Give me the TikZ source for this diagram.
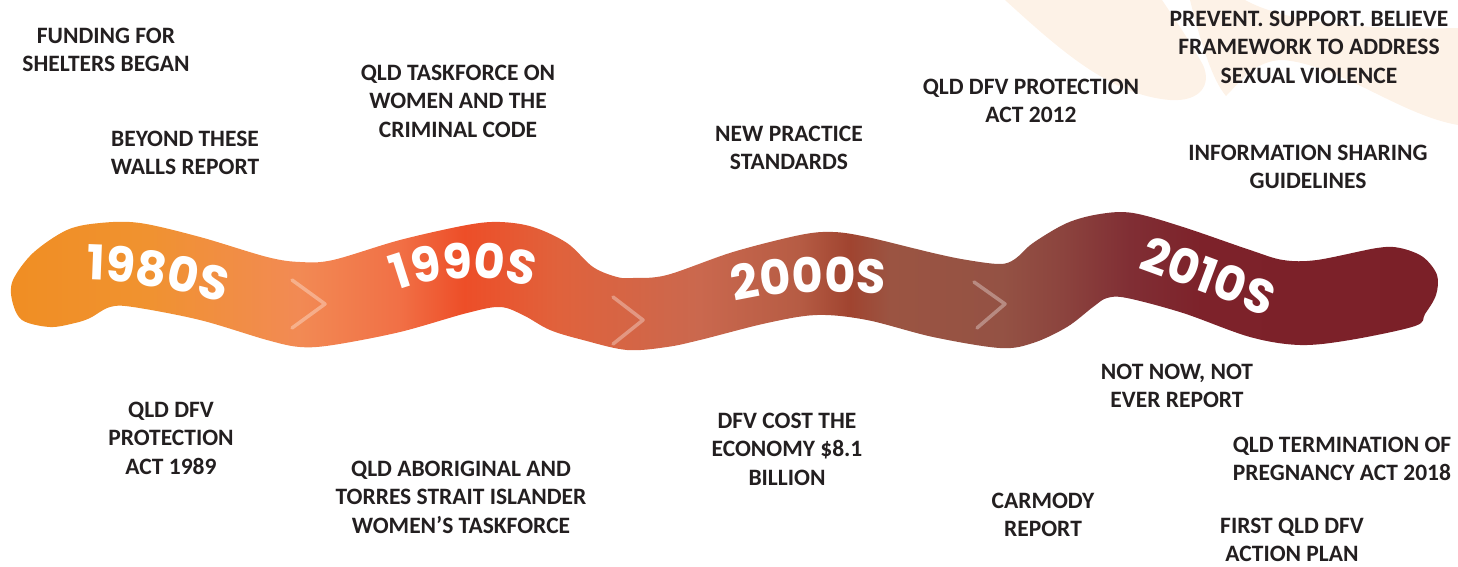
\documentclass[tikz,border=0pt]{standalone}
\usepackage{fontspec}
\setmainfont{Carlito}
\newfontfamily\decfont{Poppins}
\usetikzlibrary{decorations.text}
\definecolor{txtgray}{RGB}{35,31,32}
\definecolor{cream}{RGB}{253,242,231}
\definecolor{wa}{RGB}{240,142,35}
\definecolor{wb}{RGB}{240,146,48}
\definecolor{wc}{RGB}{242,138,84}
\definecolor{wd}{RGB}{241,112,70}
\definecolor{we}{RGB}{237,78,40}
\definecolor{wf}{RGB}{224,98,60}
\definecolor{wg}{RGB}{202,104,78}
\definecolor{wh}{RGB}{182,92,68}
\definecolor{wi}{RGB}{160,68,48}
\definecolor{wj}{RGB}{155,84,66}
\definecolor{wk}{RGB}{148,82,68}
\definecolor{wl}{RGB}{140,68,62}
\definecolor{wm}{RGB}{128,46,52}
\definecolor{wn}{RGB}{125,34,42}
\definecolor{wo}{RGB}{123,32,40}
\pgfdeclarehorizontalshading{wave}{100bp}{color(0bp)=(wa); color(25bp)=(wa); color(29.8bp)=(wb); color(35.1bp)=(wc); color(38.6bp)=(wd); color(40.9bp)=(we); color(44.2bp)=(wf); color(49.1bp)=(wg); color(52.6bp)=(wh); color(54.4bp)=(wi); color(55.8bp)=(wj); color(59.7bp)=(wk); color(61.8bp)=(wl); color(64.2bp)=(wm); color(66.7bp)=(wn); color(75bp)=(wo); color(100bp)=(wo)}
\tikzset{
  lbl/.style={font=\bfseries\fontsize{23.5}{28.5}\selectfont, text=txtgray, align=center, inner sep=0pt},
  chev/.style={draw=white, draw opacity=0.33, line width=3.5pt, line cap=round, line join=round},
  decade/.style={decorate, decoration={text along path, text align=center, text color=white,
     text={|\decfont\bfseries\fontsize{48}{48}\selectfont|#1}}}
}
\begin{document}
\begin{tikzpicture}[x=1pt,y=-1pt]
\useasboundingbox (0,0) rectangle (1458,567);
% pale background strokes, top right
\fill[cream] (1005,0) .. controls (1060,50) and (1110,95) .. (1170,100)
  .. controls (1200,102) and (1212,85) .. (1203,65)
  .. controls (1188,38) and (1172,15) .. (1162,0) -- cycle;
\fill[cream] (1190,0) .. controls (1200,40) and (1212,80) .. (1226,96)
  .. controls (1240,82) and (1255,60) .. (1283,60)
  .. controls (1340,65) and (1400,115) .. (1458,125) -- (1458,28)
  .. controls (1380,30) and (1290,25) .. (1245,0) -- cycle;
% wave
\shade[shading=wave] plot[smooth cycle, tension=0.55] coordinates {
 (13,280) (33,253) (67,230) (100,223) (140,223) (200,237) (267,257) (300,262) (333,260)
 (400,240) (467,225) (500,222) (533,227) (567,243) (593,267) (617,277) (633,278) (667,275)
 (733,252) (800,235) (833,232) (867,237) (933,253) (967,260) (1000,264) (1015,259) (1033,243)
 (1067,223) (1100,214) (1133,213) (1183,227) (1250,250) (1283,260) (1317,260) (1377,248)
 (1400,248) (1423,257) (1437,275) (1436,295) (1425,314) (1415,326)
 (1350,340) (1300,345) (1250,337) (1183,313) (1127,298) (1107,298) (1093,307) (1067,327)
 (1033,343) (1000,348) (933,337) (867,320) (817,315) (767,323) (700,340) (667,347) (627,350)
 (583,340) (550,330) (523,315) (500,307) (467,313) (400,332) (333,345) (300,347) (267,340)
 (200,320) (133,307) (110,307) (90,318) (75,323) (50,327) (22,320) (12,300)};
% chevrons
\draw[chev] (292,280) -- (325,304) -- (292,328);
\draw[chev] (613,297) -- (643,320) -- (613,344);
\draw[chev] (974,282) -- (1005,304) -- (977,328);
% decade labels
\path[decade=1980S] (76,280) .. controls (130,279) and (180,291) .. (234,305);
\path[decade=1990S] (386,295) .. controls (430,274) and (490,273) .. (544,291);
\path[decade=2000S] (731,303) .. controls (770,292) and (830,290) .. (889,295);
\path[decade=2010S] (1120,262) .. controls (1170,280) and (1230,302) .. (1284,324);
% labels above
\node[lbl] (n1) at (106,50) {FUNDING FOR\\SHELTERS BEGAN};
\node[lbl] (n2) at (185,153) {BEYOND THESE\\WALLS REPORT};
\node[lbl] (n3) at (458,101) {QLD TASKFORCE ON\\WOMEN AND THE\\CRIMINAL CODE};
\node[lbl] (n4) at (789,148) {NEW PRACTICE\\STANDARDS};
\node[lbl] (n5) at (1031,101) {QLD DFV PROTECTION\\ACT 2012};
\node[lbl] (n6) at (1309,47) {PREVENT. SUPPORT. BELIEVE\\FRAMEWORK TO ADDRESS\\SEXUAL VIOLENCE};
\node[lbl] (n7) at (1308,167) {INFORMATION SHARING\\GUIDELINES};
% labels below
\node[lbl] (n8) at (171,438) {QLD DFV\\PROTECTION\\ACT 1989};
\node[lbl] (n9) at (461,497) {QLD ABORIGINAL AND\\TORRES STRAIT ISLANDER\\WOMEN’S TASKFORCE};
\node[lbl] (n10) at (787,449) {DFV COST THE\\ECONOMY \$8.1\\BILLION};
\node[lbl] (n11) at (1177,386) {NOT NOW, NOT\\EVER REPORT};
\node[lbl] (n12) at (1043,515) {CARMODY\\REPORT};
\node[lbl] (n13) at (1342,459) {QLD TERMINATION OF\\PREGNANCY ACT 2018};
\node[lbl] (n14) at (1292,540) {FIRST QLD DFV\\ACTION PLAN};
\end{tikzpicture}
\end{document}
